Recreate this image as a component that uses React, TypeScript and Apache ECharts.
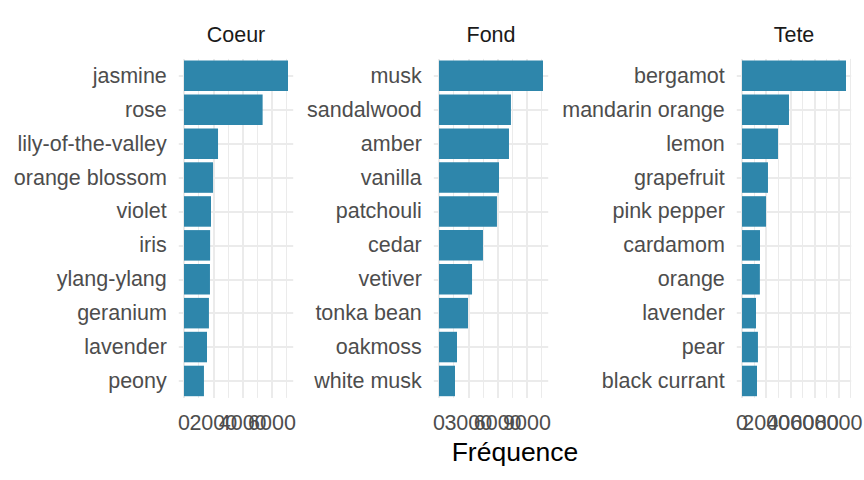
import React, { useEffect, useRef } from 'react';
import * as echarts from 'echarts';

const facetTitles = ['Coeur', 'Fond', 'Tete'];

const coeurCategories = ['jasmine', 'rose', 'lily-of-the-valley', 'orange blossom', 'violet', 'iris', 'ylang-ylang', 'geranium', 'lavender', 'peony'];
const coeurValues = [7090, 5360, 2320, 1980, 1840, 1780, 1770, 1700, 1570, 1360];
const coeurTicks = [0, 2000, 4000, 6000];
const coeurMinorTicks = [1000, 3000, 5000, 7000];

const fondCategories = ['musk', 'sandalwood', 'amber', 'vanilla', 'patchouli', 'cedar', 'vetiver', 'tonka bean', 'oakmoss', 'white musk'];
const fondValues = [10640, 7360, 7160, 6140, 5930, 4500, 3380, 2970, 1840, 1640];
const fondTicks = [0, 3000, 6000, 9000];
const fondMinorTicks = [1500, 4500, 7500, 10500];

const teteCategories = ['bergamot', 'mandarin orange', 'lemon', 'grapefruit', 'pink pepper', 'cardamom', 'orange', 'lavender', 'pear', 'black currant'];
const teteValues = [8610, 3890, 2980, 2150, 1990, 1490, 1480, 1160, 1320, 1240];
const teteTicks = [0, 2000, 4000, 6000, 8000];
const teteMinorTicks = [1000, 3000, 5000, 7000, 9000];

const xAxisTitle = 'Fréquence';

const BAR_COLOR = '#2E86AB';
const GRID_COLOR = '#EBEBEB';
const LABEL_COLOR = '#4D4D4D';
const FONT = '"Liberation Sans", Arial, Helvetica, sans-serif';
const LABEL_SIZE = 21.5;

export default function App() {
  const ref = useRef<HTMLDivElement>(null);

  useEffect(() => {
    if (!ref.current) return;
    const chart = echarts.init(ref.current, null, { renderer: 'svg' });

    const panels = [
      { cats: coeurCategories, vals: coeurValues, ticks: coeurTicks, minor: coeurMinorTicks, left: 178.8 },
      { cats: fondCategories, vals: fondValues, ticks: fondTicks, minor: fondMinorTicks, left: 433.8 },
      { cats: teteCategories, vals: teteValues, ticks: teteTicks, minor: teteMinorTicks, left: 736.8 },
    ];
    const panelWidth = 114.4;
    const top = 58.9;
    const height = 339;

    const grid: any[] = [];
    const xAxis: any[] = [];
    const yAxis: any[] = [];
    const series: any[] = [];
    const graphic: any[] = [];

    panels.forEach((p, i) => {
      grid.push({ left: p.left, top, width: panelWidth, height, containLabel: false, outerBoundsMode: 'none' });
      const maxV = Math.max(...p.vals);
      const pad = maxV * 0.05;
      const base = { type: 'value', gridIndex: i, min: -pad, max: maxV + pad, position: 'bottom', axisLine: { show: false } };
      const majorIndex = xAxis.length;
      // major grid lines
      xAxis.push({
        ...base,
        axisTick: { show: false, customValues: p.ticks },
        axisLabel: { show: false, customValues: p.ticks },
        splitLine: { show: true, lineStyle: { color: GRID_COLOR, width: 2 } },
      });
      // minor grid lines
      xAxis.push({
        ...base,
        axisTick: { show: false, customValues: p.minor },
        axisLabel: { show: false, customValues: p.minor },
        splitLine: { show: true, lineStyle: { color: GRID_COLOR, width: 1 } },
      });
      // one axis per tick label so overlapping labels are all kept (as in the reference)
      p.ticks.forEach((t) => {
        xAxis.push({
          ...base,
          axisTick: { show: false, customValues: [t] },
          axisLabel: {
            customValues: [t], color: LABEL_COLOR, fontSize: LABEL_SIZE, fontFamily: FONT, margin: 14,
            showMinLabel: true, showMaxLabel: true, hideOverlap: false,
            formatter: (v: number) => String(v),
          },
          splitLine: { show: false },
        });
      });
      yAxis.push({
        type: 'category', gridIndex: i, data: p.cats, inverse: true,
        axisLine: { show: false },
        axisTick: { show: false },
        axisLabel: { color: LABEL_COLOR, fontSize: LABEL_SIZE, fontFamily: FONT, margin: 12, interval: 0 },
        splitLine: { show: true, alignWithLabel: true, lineStyle: { color: GRID_COLOR, width: 2 } },
      });
      series.push({
        type: 'bar', xAxisIndex: majorIndex, yAxisIndex: i, data: p.vals, barWidth: '90%',
        itemStyle: { color: BAR_COLOR }, silent: true,
      });
      graphic.push({
        type: 'text', x: p.left + panelWidth / 2, y: 35,
        style: { text: facetTitles[i], fill: '#1A1A1A', font: `${LABEL_SIZE}px ${FONT}`, align: 'center', verticalAlign: 'middle' },
      });
    });

    graphic.push({
      type: 'text', x: 515, y: 452,
      style: { text: xAxisTitle, fill: '#000000', font: `26.5px ${FONT}`, align: 'center', verticalAlign: 'middle' },
    });

    chart.setOption({
      animation: false,
      backgroundColor: '#FFFFFF',
      grid, xAxis, yAxis, series, graphic,
    });

    return () => chart.dispose();
  }, []);

  return <div ref={ref} style={{ position: 'absolute', left: 0, top: 0, width: 864, height: 480 }} />;
}
